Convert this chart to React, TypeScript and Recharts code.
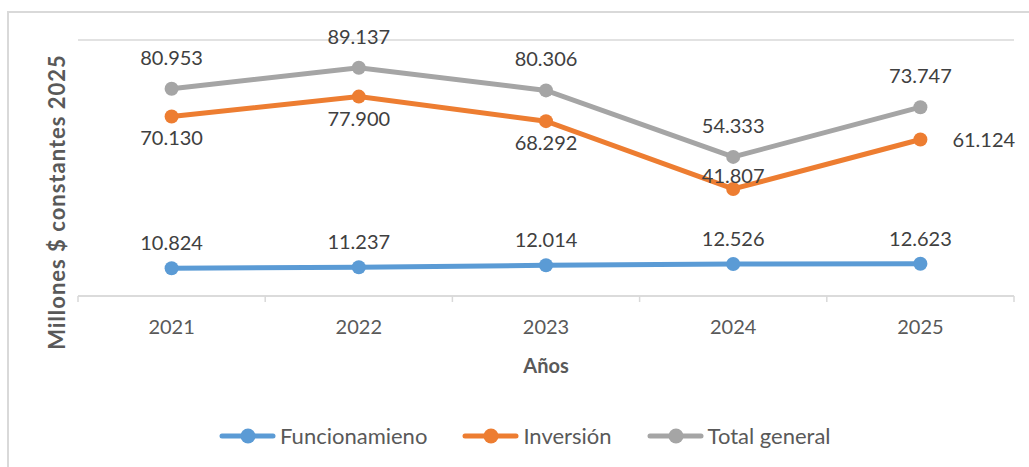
import { CartesianGrid, Label, LabelList, Legend, Line, LineChart, XAxis, YAxis } from "recharts";

const years = ["2021", "2022", "2023", "2024", "2025"];
const funcionamiento = [10824, 11237, 12014, 12526, 12623];
const inversion = [70130, 77900, 68292, 41807, 61124];
const totalGeneral = [80953, 89137, 80306, 54333, 73747];
const yTicks = [0, 20000, 40000, 60000, 80000, 100000];
const inversionLabelPos = ["below", "below", "below", "above-near", "right"];

const data = years.map((year, i) => ({
  year,
  funcionamiento: funcionamiento[i],
  inversion: inversion[i],
  total: totalGeneral[i],
}));

const series = [
  { key: "funcionamiento", name: "Funcionamieno", color: "#5B9BD5" },
  { key: "inversion", name: "Inversión", color: "#ED7D31" },
  { key: "total", name: "Total general", color: "#A5A5A5" },
];

const FONT = "Lato, 'Open Sans', sans-serif";
const fmt = (n: number) => String(n).replace(/\B(?=(\d{3})+(?!\d))/g, ".");

function makeLabel(placement: (i: number) => string, gap: number) {
  return (props: any) => {
    const { x, y, value, index } = props;
    const pos = placement(index);
    let tx = x;
    let ty = y - gap;
    let anchor: "middle" | "start" = "middle";
    if (pos === "below") ty = y + 29;
    if (pos === "above-near") ty = y - 6;
    if (pos === "right") {
      tx = x + 32;
      ty = y + 7;
      anchor = "start";
    }
    return (
      <text x={tx} y={ty} textAnchor={anchor} fill="#404040" fontSize={20} fontFamily={FONT}>
        {fmt(value)}
      </text>
    );
  };
}

const YearTick = (props: any) => {
  const { x, y, payload, index, visibleTicksCount } = props;
  const half = payload?.offset ?? 93.6;
  return (
    <g>
      <line x1={x - half} x2={x - half} y1={y} y2={y + 6} stroke="#D9D9D9" strokeWidth={1.5} />
      {index === visibleTicksCount - 1 && (
        <line x1={x + half} x2={x + half} y1={y} y2={y + 6} stroke="#D9D9D9" strokeWidth={1.5} />
      )}
      <text x={x} y={y + 38} textAnchor="middle" fill="#595959" fontSize={20} fontFamily={FONT}>
        {payload.value}
      </text>
    </g>
  );
};

const LegendContent = () => (
  <div style={{ display: "flex", alignItems: "center", paddingLeft: 219, fontFamily: FONT }}>
    {series.map((s) => (
      <div key={s.key} style={{ display: "flex", alignItems: "center", marginRight: 35 }}>
        <svg width={57} height={18}>
          <line x1={3} x2={54} y1={9} y2={9} stroke={s.color} strokeWidth={5} strokeLinecap="round" />
          <circle cx={29} cy={9} r={7.5} fill={s.color} />
        </svg>
        <span style={{ fontSize: 22, color: "#595959", marginLeft: 4 }}>{s.name}</span>
      </div>
    ))}
  </div>
);

export default function App() {
  return (
    <div style={{ position: "absolute", left: 0, top: 0, width: 1029, height: 467, background: "#fff" }}>
      <div
        style={{
          position: "absolute",
          left: 7,
          top: 11,
          right: 0,
          bottom: 0,
          borderLeft: "2px solid #D9D9D9",
          borderTop: "2px solid #D9D9D9",
        }}
      />
      <LineChart
        width={1029}
        height={467}
        data={data}
        margin={{ top: 40, right: 15, bottom: 0, left: 8 }}
        style={{ position: "absolute", left: 0, top: 0 }}
      >
        <CartesianGrid vertical={false} stroke="#D9D9D9" strokeWidth={1.5} />
        <XAxis
          dataKey="year"
          scale="band"
          height={141}
          axisLine={{ stroke: "#D9D9D9", strokeWidth: 1.5 }}
          tickLine={false}
          tickSize={0}
          tickMargin={0}
          tick={<YearTick />}
          interval={0}
        >
          <Label
            content={(p: any) => (
              <text
                x={p.viewBox.x + p.viewBox.width / 2}
                y={p.viewBox.y + 77}
                textAnchor="middle"
                fill="#595959"
                fontSize={20}
                fontWeight="bold"
                fontFamily={FONT}
              >
                Años
              </text>
            )}
          />
        </XAxis>
        <YAxis
          width={70}
          domain={[0, 100000]}
          ticks={yTicks}
          tick={false}
          axisLine={false}
          tickLine={false}
        >
          <Label
            content={() => (
              <text
                x={65}
                y={202}
                transform="rotate(-90 65 202)"
                textAnchor="middle"
                fill="#595959"
                fontSize={22}
                fontWeight="bold"
                letterSpacing={1}
                fontFamily={FONT}
              >
                Millones $ constantes 2025
              </text>
            )}
          />
        </YAxis>
        <Legend
          verticalAlign="bottom"
          content={<LegendContent />}
          wrapperStyle={{ height: 30, top: 422, left: 0, width: 1029 }}
        />
        <Line
          dataKey="funcionamiento"
          name="Funcionamieno"
          stroke="#5B9BD5"
          strokeWidth={5}
          dot={{ r: 7, fill: "#5B9BD5", stroke: "none" }}
          activeDot={false}
          isAnimationActive={false}
        >
          <LabelList content={makeLabel(() => "above", 18)} />
        </Line>
        <Line
          dataKey="inversion"
          name="Inversión"
          stroke="#ED7D31"
          strokeWidth={5}
          dot={{ r: 7, fill: "#ED7D31", stroke: "none" }}
          activeDot={false}
          isAnimationActive={false}
        >
          <LabelList content={makeLabel((i) => inversionLabelPos[i], 6)} />
        </Line>
        <Line
          dataKey="total"
          name="Total general"
          stroke="#A5A5A5"
          strokeWidth={5}
          dot={{ r: 7, fill: "#A5A5A5", stroke: "none" }}
          activeDot={false}
          isAnimationActive={false}
        >
          <LabelList content={makeLabel(() => "above", 24)} />
        </Line>
      </LineChart>
    </div>
  );
}
